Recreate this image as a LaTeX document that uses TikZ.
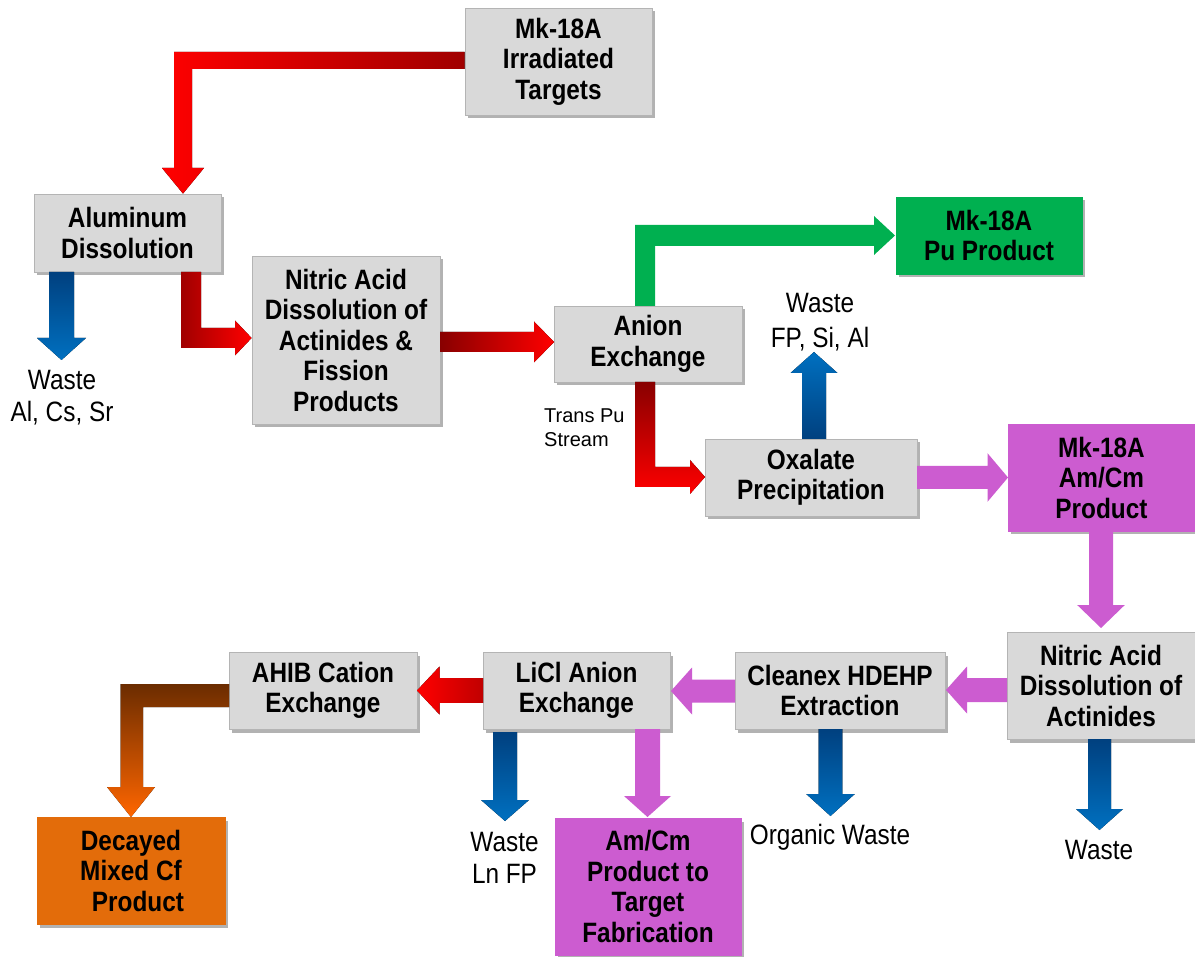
\documentclass[tikz,border=0pt]{standalone}
\usepackage{fontspec}
\setmainfont{Liberation Sans}
\newfontfamily\narrowfont{Liberation Sans}[FakeStretch=0.87]
\usetikzlibrary{shadows}
\definecolor{boxgrey}{HTML}{D9D9D9}
\definecolor{boxline}{HTML}{B4B4B4}
\definecolor{pugreen}{HTML}{00B050}
\definecolor{amviolet}{HTML}{CC5CD0}
\definecolor{cforange}{HTML}{E36C0A}
\definecolor{bluedark}{HTML}{00407F}
\definecolor{bluelight}{HTML}{0070C0}
\definecolor{reddark}{HTML}{A00000}
\definecolor{redmid}{HTML}{C00000}
\definecolor{redbright}{HTML}{FF0000}
\definecolor{redtp}{HTML}{880000}
\definecolor{brownd}{HTML}{6B2C00}
\definecolor{orangeb}{HTML}{FF6600}
\newcommand\boxfont{\narrowfont\bfseries\fontsize{28}{30.5}\selectfont}
\newcommand\lblfont{\narrowfont\fontsize{28}{32}\selectfont}
% #1 style, #2 x centre, #3 y tail, #4 y tip, #5 shaft half, #6 head half, #7 signed head length
\newcommand\VArrow[7]{\fill[#1] (#2-#5,#3) -- (#2+#5,#3) -- (#2+#5,#4-#7) -- (#2+#6,#4-#7) -- (#2,#4) -- (#2-#6,#4-#7) -- (#2-#5,#4-#7) -- cycle;}
% #1 style, #2 y centre, #3 x tail, #4 x tip, #5 shaft half, #6 head half, #7 signed head length
\newcommand\HArrow[7]{\fill[#1] (#3,#2-#5) -- (#4-#7,#2-#5) -- (#4-#7,#2-#6) -- (#4,#2) -- (#4-#7,#2+#6) -- (#4-#7,#2+#5) -- (#3,#2+#5) -- cycle;}
\begin{document}
\begin{tikzpicture}[x=1pt,y=-1pt,
  box/.style={draw=boxline, line width=0.8pt, fill=boxgrey, inner sep=0pt, align=center, font=\boxfont,
    drop shadow={shadow xshift=3pt, shadow yshift=-3.5pt, opacity=0.3, fill=black}},
  lbl/.style={align=center, inner sep=0pt, font=\lblfont},
  bluedown/.style={top color=bluedark, bottom color=bluelight},
  blueup/.style={top color=bluelight, bottom color=bluedark},
  violetfill/.style={fill=amviolet},
  greenfill/.style={fill=pugreen}
]
\fill[white] (0,0) rectangle (1195,957);
\useasboundingbox (0,0) rectangle (1195,957);

% ---------- boxes ----------
\node[box, minimum width=187pt, minimum height=107pt] (mk) at (558.5,61.5) {Mk-18A\\Irradiated\\Targets};
\node[box, minimum width=187pt, minimum height=78pt] (al) at (127.5,233) {Aluminum\\Dissolution};
\node[box, minimum width=188pt, minimum height=168pt] (nit1) at (346,340) {Nitric Acid\\Dissolution of\\Actinides \&\\Fission\\Products};
\node[box, minimum width=188pt, minimum height=76pt] (anion) at (648,344) {Anion\\Exchange};
\node[box, fill=pugreen, draw=pugreen, minimum width=186pt, minimum height=77pt] (pu) at (989,235.5) {Mk-18A\\Pu Product};
\node[box, minimum width=212pt, minimum height=77pt] (ox) at (811,477.5) {Oxalate\\Precipitation};
\node[box, fill=amviolet, draw=amviolet, minimum width=187pt, minimum height=107pt] (amcm) at (1101.5,477.5) {Mk-18A\\Am/Cm\\Product};
\node[box, minimum width=188pt, minimum height=107pt] (nit2) at (1101,685.5) {Nitric Acid\\Dissolution of\\Actinides};
\node[box, minimum width=210pt, minimum height=77pt] (clx) at (840,690.5) {Cleanex HDEHP\\Extraction};
\node[box, minimum width=187pt, minimum height=77pt] (licl) at (576.5,690.5) {LiCl Anion\\Exchange};
\node[box, minimum width=188pt, minimum height=77pt] (ahib) at (323,690.5) {AHIB Cation\\Exchange};
\node[box, fill=cforange, draw=cforange, minimum width=188pt, minimum height=107pt] (dec) at (131,870.5) {Decayed\\Mixed Cf\\\hspace*{14pt}Product};
\node[box, fill=amviolet, draw=amviolet, minimum width=186pt, minimum height=137pt] (tgt) at (648,886.5) {Am/Cm\\Product to\\Target\\Fabrication};

% ---------- labels ----------
\node[lbl, font=\narrowfont\fontsize{28}{32}\selectfont] (w1) at (62,398) {Waste\\Al, Cs, Sr};
\node[lbl, font=\narrowfont\fontsize{28}{35}\selectfont] (w2) at (820,322.5) {Waste\\FP, Si, Al};
\node[lbl] (w3) at (830,837) {Organic Waste};
\node[lbl] (w4) at (1099,850) {Waste};
\node[lbl, font=\narrowfont\fontsize{28}{32}\selectfont] (w5) at (504.5,858) {Waste\\Ln FP};
\node[align=left, inner sep=0pt, anchor=west, font=\fontsize{20}{24}\selectfont] (tp) at (544,428) {Trans Pu\\Stream};

% ---------- connectors ----------
% Mk-18A -> Aluminum Dissolution
\fill[left color=redbright, middle color=redbright, right color=reddark]
  (mk.west |- 0,52) -- (174,52) -- (174,168) -- (162,168) -- (al.north -| 183,0) -- (204,168) -- (192,168) -- (192,69) -- (mk.west |- 0,69) -- cycle;
% Aluminum -> Nitric
\fill[left color=reddark, right color=redbright]
  (181,272) -- (201,272) -- (201,328) -- (235,328) -- (235,320.5) -- (nit1.west |- 0,338) -- (235,355.5) -- (235,348) -- (181,348) -- cycle;
% Nitric -> Anion
\HArrow{left color=redtp, right color=redbright}{342}{440}{554}{10}{20.5}{20}
% Anion -> Pu product
\fill[greenfill]
  (635,306) -- (635,225) -- (874,225) -- (874,216) -- (895,235.5) -- (874,255) -- (874,246) -- (655,246) -- (655,306) -- cycle;
% Anion -> Oxalate (Trans Pu stream)
\fill[top color=redtp, bottom color=redbright]
  (635,382) -- (655,382) -- (655,467) -- (690,467) -- (690,460) -- (705,477) -- (690,494) -- (690,487) -- (635,487) -- cycle;
% Oxalate -> waste
\VArrow{blueup}{814}{439}{352}{12}{23.5}{-21}
% Oxalate -> Am/Cm product
\HArrow{violetfill}{477.5}{917}{1008}{11.5}{24.3}{20.5}
% Am/Cm product -> Nitric 2
\VArrow{violetfill}{1101}{531}{628}{12}{23.8}{23}
% Nitric 2 -> waste
\VArrow{bluedown}{1099.5}{739}{830}{11.5}{23.5}{21}
% Nitric 2 -> Cleanex
\HArrow{violetfill}{690}{1007}{946}{12}{23.5}{-21}
% Cleanex -> organic waste
\VArrow{bluedown}{830.5}{729}{816}{11.8}{24.3}{22}
% Cleanex -> LiCl
\HArrow{violetfill}{691}{735}{671}{11.5}{23.5}{-21}
% LiCl -> AHIB
\HArrow{left color=redbright, right color=redmid}{690.5}{483}{417}{12.3}{24}{-22.5}
% LiCl -> waste
\VArrow{bluedown}{505}{732}{821}{12}{24}{21}
% LiCl -> target fabrication
\VArrow{violetfill}{647.5}{729}{817}{12.5}{23.5}{21}
% AHIB -> Decayed Cf
\fill[top color=brownd, bottom color=orangeb]
  (229,684) -- (120.5,684) -- (120.5,787) -- (107,787) -- (131,817) -- (155,787) -- (143,787) -- (143,707) -- (229,707) -- cycle;
% Aluminum -> waste
\VArrow{bluedown}{61.5}{272}{360}{12.5}{24.5}{22}
\end{tikzpicture}
\end{document}
